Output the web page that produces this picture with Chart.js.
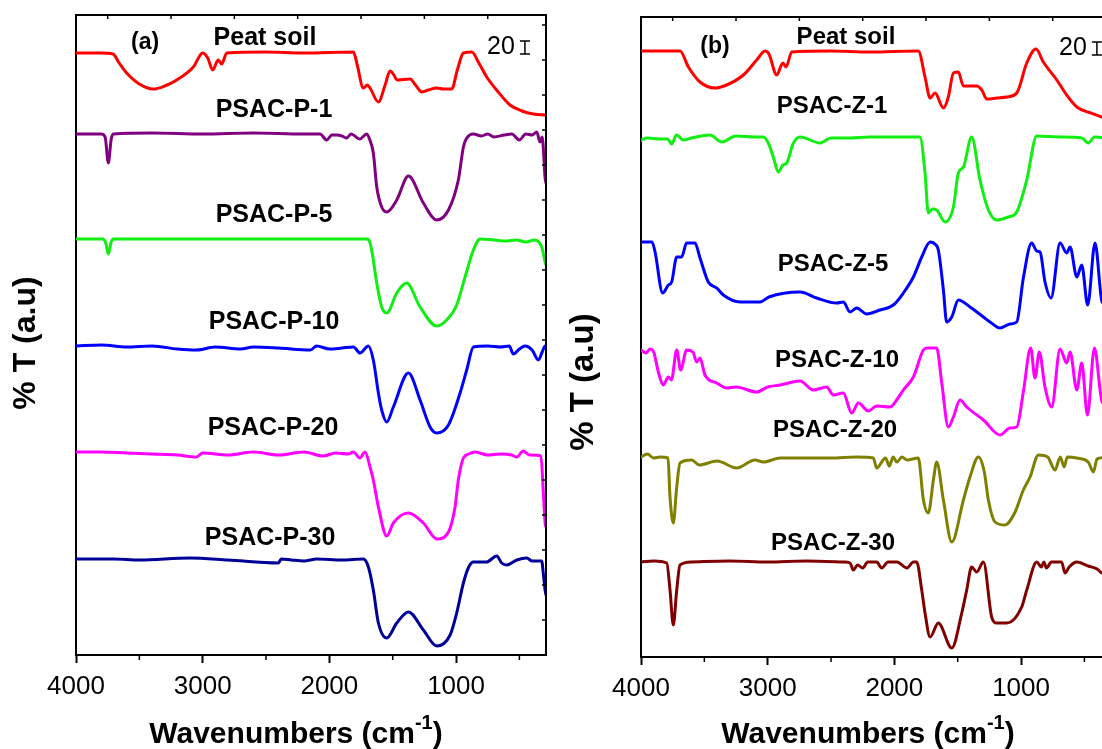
<!DOCTYPE html>
<html>
<head>
<meta charset="utf-8">
<script src="https://cdn.jsdelivr.net/npm/chart.js@4.4.0/dist/chart.umd.min.js"></script>
<style>
html, body { margin: 0; padding: 0; background: #fff; overflow: hidden; width: 1102px; height: 749px; }
canvas { position: absolute; top: 0; }
#chartA { left: 0; }
#chartB { left: 560px; }
</style>
</head>
<body>
<canvas id="chartA" width="580" height="749"></canvas>
<canvas id="chartB" width="580" height="749"></canvas>
<script>
// FTIR spectra, wavenumber (cm-1) vs %T offset (a.u.)

const xTicks = [4000, 3500, 3000, 2500, 2000, 1500, 1000, 500];
const xTopTicks = [3750, 3250, 2750, 2250, 1750, 1250, 750];
const yRightTicks = [35, 70, 105, 140, 175, 210, 245, 280, 315, 350, 385, 420, 455, 490, 525, 560, 595, 630];

const namesA = ['Peat soil', 'PSAC-P-1', 'PSAC-P-5', 'PSAC-P-10', 'PSAC-P-20', 'PSAC-P-30'];
const namesB = ['Peat soil', 'PSAC-Z-1', 'PSAC-Z-5', 'PSAC-Z-10', 'PSAC-Z-20', 'PSAC-Z-30'];
const colorsA = ['#ff0000', '#800080', '#11ee11', '#0000ff', '#ff00ff', '#000099'];
const colorsB = ['#ff0000', '#11ee11', '#0000ff', '#ff00ff', '#808000', '#800000'];

// panel (a)
const peatA = [[4000,602],[3800,602],[3708,601],[3660,592],[3600,582],[3500,571],[3390,566],[3300,569],[3205,575],[3074,588],[3000,602],[2960,597],[2921,585],[2877,595],[2850,591],[2810,602],[2500,603],[2200,602],[1810,603],[1780,590],[1732,567],[1700,570],[1679,567],[1613,553],[1560,570],[1521,584],[1490,580],[1468,575],[1363,576],[1320,570],[1271,563],[1220,565],[1152,567],[1100,566],[1034,566],[990,585],[942,602],[876,603],[820,592],[758,578],[680,565],[574,550],[480,544],[390,541],[290,540]];
const p1 = [[4000,521],[3800,521],[3770,518],[3745,492],[3722,516],[3705,521],[3400,522],[3000,521],[2600,522],[2200,521],[2074,521],[2021,515],[1980,520],[1942,520],[1900,519],[1863,517],[1830,521],[1810,520],[1760,516],[1705,521],[1680,515],[1653,502],[1626,468],[1587,448],[1547,443],[1468,455],[1376,479],[1258,452],[1152,435],[1060,445],[982,475],[942,508],[920,516],[863,521],[800,519],[750,521],[700,518],[620,520],[560,521],[500,515],[450,521],[400,520],[363,523],[337,513],[320,518],[297,477],[290,472]];
const p5 = [[4000,416],[3790,416],[3765,412],[3745,401],[3725,412],[3705,416],[3000,416],[2000,416],[1700,416],[1679,412],[1666,405],[1626,372],[1587,348],[1547,342],[1468,362],[1390,372],[1284,348],[1152,329],[1074,335],[995,350],[929,378],[863,405],[810,416],[700,415],[600,414],[520,415],[450,413],[380,415],[324,408],[297,393],[290,390]];
const p10 = [[4000,309],[3800,310],[3600,308],[3400,309],[3200,306],[3047,305],[2900,308],[2700,306],[2600,308],[2400,307],[2150,305],[2100,309],[2000,306],[1900,307],[1810,308],[1758,302],[1692,309],[1653,295],[1613,262],[1587,245],[1547,233],[1495,248],[1376,282],[1284,255],[1205,228],[1152,222],[1060,230],[968,262],[916,285],[863,308],[750,309],[650,308],[580,309],[548,301],[500,306],[455,309],[400,305],[350,295],[320,303],[297,309],[290,309]];
const p20 = [[4000,203],[3800,203],[3600,202],[3400,201],[3200,200],[3050,198],[3000,202],[2800,200],[2600,203],[2400,200],[2200,203],[2050,199],[1950,202],[1850,201],[1810,203],[1760,197],[1718,203],[1679,188],[1653,175],[1613,148],[1547,119],[1495,132],[1376,142],[1258,132],[1152,116],[1060,123],[1008,148],[982,175],[942,197],[900,201],[850,203],[750,200],[650,201],[560,200],[520,198],[470,204],[420,200],[330,199],[310,160],[297,132],[290,128]];
const p30 = [[4000,96],[3700,96],[3500,95],[3100,97],[2800,95],[2403,92],[2380,96],[2300,95],[2200,94],[2100,96],[1900,95],[1732,96],[1692,88],[1653,65],[1613,32],[1547,17],[1468,32],[1376,43],[1258,25],[1152,9],[1047,20],[995,42],[942,72],[900,88],[863,93],[760,93],[679,99],[640,92],[600,90],[520,95],[442,97],[400,94],[324,94],[310,80],[297,65],[290,60]];

// panel (b)
const peatB = [[4000,606],[3800,606],[3692,606],[3626,590],[3534,575],[3416,569],[3324,572],[3192,582],[3087,597],[3021,606],[2990,603],[2929,582],[2880,594],[2855,590],[2810,605],[2500,606],[2200,605],[1811,606],[1758,580],[1718,559],[1679,564],[1613,549],[1574,560],[1534,584],[1495,585],[1455,571],[1350,571],[1310,567],[1271,558],[1192,559],[1113,560],[1034,564],[955,594],[882,608],[824,595],[718,577],[640,562],[560,550],[450,544],[363,540],[290,538]];
const z1 = [[4000,517],[3950,519],[3850,518],[3790,518],[3758,513],[3720,522],[3666,517],[3600,519],[3455,522],[3363,515],[3250,521],[3100,520],[3034,520],[2995,514],[2956,500],[2916,485],[2880,492],[2850,494],[2797,514],[2745,520],[2587,514],[2500,519],[2350,519],[2200,520],[2000,520],[1798,520],[1758,484],[1732,444],[1700,448],[1666,447],[1600,435],[1534,450],[1495,484],[1455,490],[1390,520],[1324,477],[1258,447],[1192,437],[1100,440],[1034,445],[955,477],[876,521],[700,520],[520,519],[469,514],[420,520],[290,518]];
const z5 = [[4000,415],[3913,415],[3889,405],[3829,364],[3784,372],[3758,375],[3718,400],[3679,400],[3640,414],[3574,414],[3534,399],[3469,375],[3402,369],[3350,362],[3218,355],[3061,355],[2990,360],[2745,365],[2613,359],[2455,354],[2403,355],[2350,345],[2297,349],[2218,343],[2113,347],[2008,352],[1929,364],[1850,380],[1784,400],[1718,415],[1680,413],[1653,407],[1613,367],[1587,335],[1547,340],[1495,357],[1403,350],[1297,340],[1245,335],[1166,329],[1087,333],[1034,335],[982,379],[916,414],[876,406],[850,405],[811,375],[763,359],[692,414],[640,404],[613,410],[560,380],[521,392],[474,352],[416,414],[360,355],[290,350]];
const z10 = [[4000,307],[3960,304],[3929,308],[3900,305],[3863,285],[3824,272],[3784,280],[3760,277],[3718,307],[3687,287],[3640,307],[3590,305],[3561,295],[3534,299],[3495,282],[3402,274],[3324,269],[3250,270],[3087,265],[3000,270],[2900,272],[2745,276],[2640,267],[2534,270],[2482,262],[2403,264],[2337,244],[2284,254],[2205,246],[2140,251],[2034,250],[1982,257],[1929,267],[1850,280],[1771,307],[1740,309],[1666,309],[1626,274],[1574,230],[1534,240],[1482,257],[1429,250],[1297,237],[1166,222],[1087,229],[1034,230],[982,265],[924,309],[890,279],[856,305],[811,270],[758,250],[692,308],[640,294],[613,305],[560,267],[521,294],[476,242],[421,309],[360,255],[290,250]];
const z20 = [[4000,200],[3950,203],[3900,199],[3850,200],[3787,199],[3771,160],[3745,134],[3718,170],[3692,194],[3600,197],[3540,192],[3400,196],[3245,189],[3100,197],[3034,195],[2900,199],[2700,199],[2500,199],[2300,200],[2166,199],[2140,189],[2070,199],[2040,191],[2010,200],[1980,195],[1940,200],[1900,197],[1811,199],[1771,157],[1732,144],[1692,177],[1666,195],[1613,157],[1547,115],[1455,157],[1403,180],[1337,200],[1290,185],[1258,157],[1205,135],[1127,132],[1047,145],[982,167],[929,180],[863,202],[790,200],[732,187],[690,200],[660,190],[635,200],[560,199],[470,195],[429,185],[400,198],[290,200]];
const z30 = [[4000,95],[3900,96],[3797,94],[3771,67],[3745,32],[3718,67],[3692,92],[3600,95],[3300,96],[3000,95],[2700,96],[2400,95],[2350,94],[2324,87],[2290,92],[2250,89],[2210,95],[2140,95],[2100,89],[2050,95],[1980,95],[1900,89],[1850,95],[1824,95],[1784,67],[1758,44],[1718,20],[1653,34],[1547,9],[1468,44],[1429,67],[1390,90],[1350,85],[1297,95],[1232,40],[1192,34],[1113,34],[995,50],[955,67],[876,95],[840,90],[820,95],[800,89],[760,95],[680,95],[653,84],[620,90],[560,95],[470,91],[400,88],[363,84],[290,82]];

const seriesA = [peatA, p1, p5, p10, p20, p30];
const seriesB = [peatB, z1, z5, z10, z20, z30];

const FONT = "'Liberation Sans', Arial, sans-serif";

// text + frame decorations, positioned through the chart's scales
function annotPlugin(lay) {
  return {
    id: 'annot',
    afterDraw(chart) {
      const { ctx, chartArea: a, scales: { x, y } } = chart;
      ctx.save();
      ctx.strokeStyle = '#000';
      ctx.lineWidth = 2;
      ctx.beginPath();
      ctx.moveTo(a.left, a.top);
      ctx.lineTo(a.right, a.top);
      ctx.lineTo(a.right, a.bottom);
      ctx.stroke();

      ctx.lineWidth = 1.5;
      ctx.beginPath();
      xTicks.filter(v => v % 1000).forEach(v => {
        const px = x.getPixelForValue(v);
        ctx.moveTo(px, a.bottom);
        ctx.lineTo(px, a.bottom + 5);
      });
      xTopTicks.forEach(v => {
        const px = x.getPixelForValue(v);
        ctx.moveTo(px, a.top);
        ctx.lineTo(px, a.top + 4);
      });
      yRightTicks.forEach(v => {
        const py = y.getPixelForValue(v);
        ctx.moveTo(a.right, py);
        ctx.lineTo(a.right - 4, py);
      });
      ctx.stroke();

      ctx.fillStyle = '#000';
      ctx.textAlign = 'center';
      ctx.textBaseline = 'alphabetic';

      // sample names
      ctx.font = 'bold ' + lay.nameSize + 'px ' + FONT;
      lay.names.forEach((n, i) => {
        const [wn, v] = lay.namePos[i];
        ctx.fillText(n, x.getPixelForValue(wn), y.getPixelForValue(v) + lay.nameSize * 0.36);
      });

      // panel letter
      ctx.font = 'bold 23px ' + FONT;
      ctx.fillText(lay.letter, x.getPixelForValue(lay.letterPos[0]), y.getPixelForValue(lay.letterPos[1]) + 8);

      // 20 scale bar
      ctx.font = '25px ' + FONT;
      const sx = x.getPixelForValue(lay.barPos[0]);
      const sy = y.getPixelForValue(lay.barPos[1]) + 9;
      ctx.fillText('20', sx, sy);
      const bx = sx + ctx.measureText('20').width / 2 + 10;
      ctx.lineWidth = 1.5;
      ctx.beginPath();
      ctx.moveTo(bx, sy - 13); ctx.lineTo(bx, sy);
      ctx.moveTo(bx - 5, sy - 13); ctx.lineTo(bx + 5, sy - 13);
      ctx.moveTo(bx - 5, sy); ctx.lineTo(bx + 5, sy);
      ctx.stroke();

      // y title
      ctx.save();
      ctx.translate(lay.yTitle[0], lay.yTitle[1]);
      ctx.rotate(-Math.PI / 2);
      ctx.font = 'bold ' + lay.yTitle[2] + 'px ' + FONT;
      ctx.fillText('% T (a.u)', 0, 0);
      ctx.restore();

      // x title with superscript
      ctx.textAlign = 'left';
      const main = 'bold 30px ' + FONT, sup = 'bold 20px ' + FONT;
      ctx.font = main;
      const w1 = ctx.measureText('Wavenumbers (cm').width;
      const w3 = ctx.measureText(')').width;
      ctx.font = sup;
      const w2 = ctx.measureText('-1').width;
      let tx = lay.xTitle[0] - (w1 + w2 + w3) / 2;
      const ty = lay.xTitle[1];
      ctx.font = main;
      ctx.fillText('Wavenumbers (cm', tx, ty);
      ctx.font = sup;
      ctx.fillText('-1', tx + w1, ty - 14);
      ctx.font = main;
      ctx.fillText(')', tx + w1 + w2, ty);
      ctx.restore();
    }
  };
}

function makeChart(id, names, series, colors, lay) {
  const ctx = document.getElementById(id).getContext('2d');
  return new Chart(ctx, {
    type: 'line',
    data: {
      datasets: names.map((n, i) => ({
        label: n,
        data: series[i].map(p => ({ x: p[0], y: p[1] })),
        borderColor: colors[i],
        borderWidth: 3,
        borderJoinStyle: 'round',
        borderCapStyle: 'round',
        pointRadius: 0,
        fill: false,
        cubicInterpolationMode: 'monotone'
      }))
    },
    options: {
      responsive: false,
      animation: false,
      layout: { padding: { top: lay.top, right: lay.right, left: 0, bottom: 0 } },
      scales: {
        x: {
          type: 'linear',
          reverse: true,
          min: 290,
          max: 4000,
          afterFit: s => { s.height = lay.xHeight; },
          afterBuildTicks: s => { s.ticks = xTicks.map(v => ({ value: v })); },
          grid: {
            drawOnChartArea: false,
            tickLength: 8,
            tickWidth: 2,
            tickColor: c => (c.tick && c.tick.value % 1000 === 0 ? '#000' : 'rgba(0,0,0,0)')
          },
          border: { color: '#000', width: 2 },
          ticks: {
            color: '#000',
            font: { family: FONT, size: 26 },
            padding: 8,
            maxRotation: 0,
            autoSkip: false,
            callback: v => (v % 1000 === 0 ? String(v) : '')
          }
        },
        y: {
          type: 'linear',
          min: 0,
          max: 640,
          afterFit: s => { s.width = lay.yWidth; },
          ticks: { display: false },
          grid: { display: false },
          border: { color: '#000', width: 2 }
        }
      },
      plugins: { legend: { display: false }, tooltip: { enabled: false } }
    },
    plugins: [annotPlugin(lay)]
  });
}

makeChart('chartA', namesA, seriesA, colorsA, {
  top: 15, right: 34, xHeight: 94, yWidth: 76,
  names: namesA, nameSize: 25,
  namePos: [[2508, 619], [2437, 547], [2437, 442], [2437, 335], [2445, 229], [2468, 119]],
  letter: '(a)', letterPos: [3455, 614],
  barPos: [645, 610],
  yTitle: [35, 343, 32],
  xTitle: [296, 743]
});

makeChart('chartB', namesB, seriesB, colorsB, {
  top: 17, right: 29, xHeight: 92, yWidth: 81,
  names: namesB, nameSize: 24,
  namePos: [[2382, 622], [2492, 553], [2484, 395], [2453, 299], [2468, 229], [2484, 116]],
  letter: '(b)', letterPos: [3416, 612],
  barPos: [590, 611],
  yTitle: [33, 382, 33],
  xTitle: [308, 743]
});
</script>
</body>
</html>
